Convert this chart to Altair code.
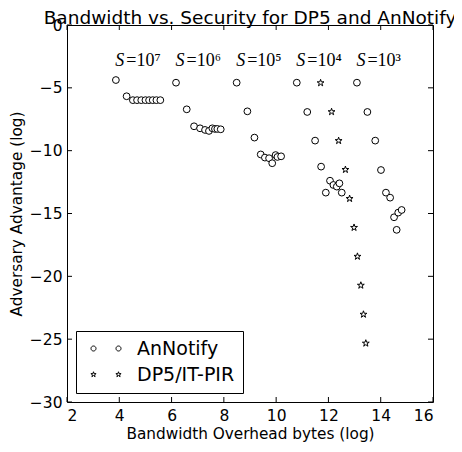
import altair as alt
import pandas as pd

# ---- data ----
ann_x = [3.87, 4.28, 4.52, 4.68, 4.84, 5.00, 5.14, 5.28, 5.42, 5.57,
         6.17, 6.58, 6.86, 7.09, 7.28, 7.43, 7.56, 7.66, 7.75, 7.88,
         8.49, 8.90, 9.17, 9.41, 9.57, 9.73, 9.85, 9.98, 10.05, 10.19,
         10.79, 11.19, 11.49, 11.72, 12.06, 12.19, 12.32, 12.42, 12.51, 11.90,
         13.09, 13.49, 13.79, 14.01, 14.20, 14.36, 14.51, 14.67, 14.80, 14.61]
ann_y = [-4.38, -5.67, -5.98, -5.98, -5.98, -5.98, -5.98, -5.98, -5.98, -5.98,
         -4.59, -6.71, -8.06, -8.22, -8.35, -8.43, -8.22, -8.27, -8.27, -8.30,
         -4.59, -6.87, -8.96, -10.30, -10.55, -10.60, -11.00, -10.35, -10.50, -10.45,
         -4.59, -6.92, -9.20, -11.27, -12.39, -12.73, -12.86, -12.60, -13.34, -13.34,
         -4.59, -6.92, -9.20, -11.54, -13.34, -13.74, -15.30, -14.93, -14.72, -16.30]
dp5_x = [11.70, 12.12, 12.39, 12.65, 12.81, 12.98, 13.11, 13.24, 13.34, 13.43]
dp5_y = [-4.61, -6.91, -9.21, -11.51, -13.82, -16.12, -18.42, -20.72, -23.03, -25.33]

label_x = [3.85, 6.15, 8.47, 10.77, 13.07]
label_y = [-3.3, -3.3, -3.3, -3.3, -3.3]
label_exp = ["=10⁷", "=10⁶", "=10⁵", "=10⁴", "=10³"]

x_ticks = [2, 4, 6, 8, 10, 12, 14, 16]
y_ticks = [0, -5, -10, -15, -20, -25, -30]
series = ["AnNotify", "DP5/IT-PIR"]

W, H = 366, 377
FONT = "DejaVu Sans"
STAR = ("M0,-1L0.2245,-0.309L0.951,-0.309L0.363,0.118L0.588,0.809L0,0.382"
        "L-0.588,0.809L-0.363,0.118L-0.951,-0.309L-0.2245,-0.309Z")


def circ(cx, r):
    return (f"M{cx + r},0A{r},{r} 0 1,1 {cx - r},0A{r},{r} 0 1,1 {cx + r},0Z")


def star(cx, r):
    pts = [(0, -1), (0.2245, -0.309), (0.951, -0.309), (0.363, 0.118), (0.588, 0.809),
           (0, 0.382), (-0.588, 0.809), (-0.363, 0.118), (-0.951, -0.309), (-0.2245, -0.309)]
    return "M" + "L".join(f"{cx + px * r:.3f},{py * r:.3f}" for px, py in pts) + "Z"


LEG_CIRCLE = circ(0, 0.5) + circ(5, 0.5)
LEG_STAR = star(0, 0.55) + star(5, 0.55)

ann = pd.DataFrame({"x": ann_x, "y": ann_y, "series": series[0]})
dp5 = pd.DataFrame({"x": dp5_x, "y": dp5_y, "series": series[1]})
both = pd.concat([ann, dp5])
labels = pd.DataFrame({"x": label_x, "y": label_y, "t": label_exp})
xt = pd.DataFrame({"t": x_ticks})
yt = pd.DataFrame({"t": y_ticks})

xs = alt.Scale(domain=[2, 16], nice=False, zero=False)
ys = alt.Scale(domain=[-30, 0], nice=False, zero=False)
x_axis = alt.Axis(values=x_ticks, title="Bandwidth Overhead bytes (log)", grid=False,
                  domain=False, ticks=False, labelPadding=6, titlePadding=3)
y_axis = alt.Axis(values=y_ticks, title="Adversary Advantage (log)", grid=False,
                  domain=False, ticks=False, labelPadding=5, titlePadding=5)


def X(f):
    return alt.X(f, type="quantitative", scale=xs, axis=x_axis)


def Y(f):
    return alt.Y(f, type="quantitative", scale=ys, axis=y_axis)


circles = alt.Chart(ann).mark_point(
    shape="circle", filled=True, fill="white", stroke="black", strokeWidth=1, size=46, opacity=1
).encode(x=X("x"), y=Y("y"))

stars = alt.Chart(dp5).mark_point(
    shape=STAR, filled=True, fill="white", stroke="black", strokeWidth=1, size=52, opacity=1
).encode(x=X("x"), y=Y("y"))

s_text = alt.Chart(labels).mark_text(
    text="S", font="Liberation Serif", fontStyle="italic", fontSize=18, align="left",
    baseline="alphabetic", color="black"
).encode(x=X("x"), y=Y("y"))

eq_text = alt.Chart(labels).mark_text(
    font="Liberation Serif", fontSize=18, align="left", baseline="alphabetic",
    color="black", dx=11
).encode(x=X("x"), y=Y("y"), text="t:N")

legend_layer = alt.Chart(both).transform_filter("false").mark_point(
    filled=False, color="black", strokeWidth=1, opacity=1
).encode(
    x=X("x"), y=Y("y"),
    shape=alt.Shape("series:N", title=None,
                    scale=alt.Scale(domain=series, range=[LEG_CIRCLE, LEG_STAR]),
                    legend=alt.Legend(orient="bottom-left", offset=9, strokeColor="black",
                                      fillColor="white", padding=8, labelOffset=34,
                                      labelFontSize=19, labelFont=FONT, labelColor="black",
                                      rowPadding=6, symbolSize=100, symbolStrokeWidth=1,
                                      symbolStrokeColor="black"))
)

tick_b = alt.Chart(xt).mark_rule(color="black", strokeWidth=1).encode(
    x=X("t"), y=alt.value(H), y2=alt.value(H - 5))
tick_t = alt.Chart(xt).mark_rule(color="black", strokeWidth=1).encode(
    x=X("t"), y=alt.value(0), y2=alt.value(5))
tick_l = alt.Chart(yt).mark_rule(color="black", strokeWidth=1).encode(
    y=Y("t"), x=alt.value(0), x2=alt.value(5))
tick_r = alt.Chart(yt).mark_rule(color="black", strokeWidth=1).encode(
    y=Y("t"), x=alt.value(W), x2=alt.value(W - 5))

chart = alt.layer(
    tick_b, tick_t, tick_l, tick_r, legend_layer, circles, stars, s_text, eq_text
).properties(
    width=W, height=H,
    title=alt.TitleParams("Bandwidth vs. Security for DP5 and AnNotify", font=FONT,
                          fontSize=18.5, fontWeight="normal", color="black",
                          anchor="middle", frame="group", offset=0, dy=9),
    autosize=alt.AutoSizeParams(type="none"),
    padding={"left": 59, "top": 17, "right": 21, "bottom": 42},
).configure_view(
    stroke="black", strokeWidth=1
).configure_axis(
    labelFont=FONT, labelFontSize=15.5, labelColor="black",
    titleFont=FONT, titleFontSize=15.3, titleFontWeight="normal", titleColor="black"
)

chart.save("out.html", embed_options={"renderer": "svg", "actions": False})
